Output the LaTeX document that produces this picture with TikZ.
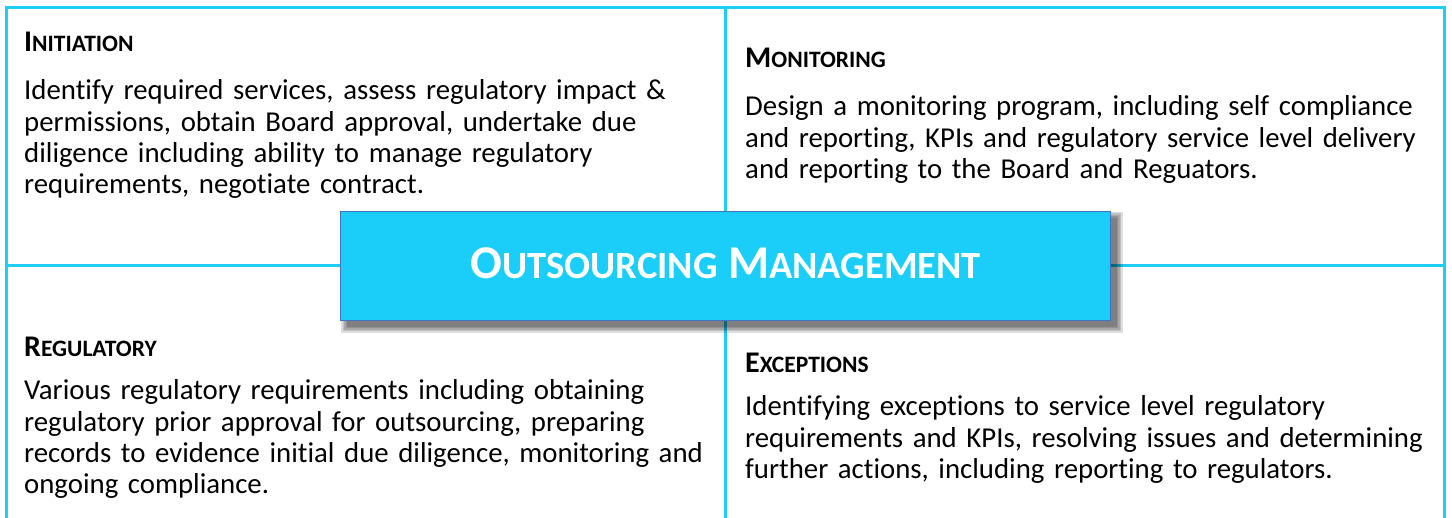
\documentclass[tikz,border=0pt]{standalone}
\usepackage{fontspec}
\setmainfont{Carlito}[Ligatures=NoCommon]
\definecolor{frame}{RGB}{30,206,245}
\definecolor{boxfill}{RGB}{27,206,249}
\definecolor{boxline}{RGB}{68,114,196}
\newcommand{\hdsc}[2]{#1{\fontsize{23.5}{26}\selectfont #2}}
\newcommand{\ttsc}[2]{#1{\fontsize{38.5}{42}\selectfont #2}}
\tikzset{
  frameline/.style={draw=frame, line width=3pt},
  head/.style={anchor=base west, inner sep=0pt, font=\fontsize{30}{34}\selectfont\bfseries, text=black},
  body/.style={anchor=base west, inner sep=0pt, text width=700pt, align=left, font=\fontsize{28.8}{31.3}\selectfont, text=black},
  centerbox/.style={draw=boxline, line width=1.2pt, fill=boxfill, minimum width=770pt, minimum height=109pt, inner sep=0pt},
  shadowlayer/.style={fill=black, opacity=0.13},
  title/.style={anchor=base, inner sep=0pt, font=\fontsize{47}{50}\selectfont\bfseries, text=white}
}
\begin{document}
\begin{tikzpicture}[x=1pt,y=-1pt]
\useasboundingbox (0,0) rectangle (1452,518);
\fill[white] (0,0) rectangle (1452,518);
% frame
\coordinate (bl) at (6,530);
\coordinate (tl) at (6,8);
\coordinate (tr) at (1444,8);
\coordinate (br) at (1444,530);
\coordinate (vt) at (725.7,8);
\coordinate (vb) at (725.7,530);
\coordinate (hl) at (6,265.7);
\coordinate (hr) at (1444,265.7);
\draw[frameline] (bl) -- (tl) -- (tr) -- (br);
\draw[frameline] (vt) -- (vb);
\draw[frameline] (hl) -- (hr);
% center box with soft shadow
\coordinate (cnw) at (341,211.7);
\coordinate (cse) at (1110.7,320.7);
\foreach \d in {0,1.5,3,4.5,6}{
  \fill[shadowlayer] ([shift={(6-\d,6-\d)}]cnw) rectangle ([shift={(6+\d,6+\d)}]cse);
}
\node[centerbox] (cb) at (725.85,266.2) {};
\node[title] (tt) at (725.7,278.5) {\ttsc{O}{UTSOURCING} \ttsc{M}{ANAGEMENT}};
% Initiation
\node[head] (h1) at (24,52) {\hdsc{I}{NITIATION}};
\node[body] (b1) at (24,100) {Identify required services, assess regulatory impact \&\\permissions, obtain Board approval, undertake due\\diligence including ability to manage regulatory\\requirements, negotiate contract.};
% Monitoring
\node[head] (h2) at (745,68) {\hdsc{M}{ONITORING}};
\node[body] (b2) at (745,116) {Design a monitoring program, including self compliance\\and reporting, KPIs and regulatory service level delivery\\and reporting to the Board and Reguators.};
% Regulatory
\node[head] (h3) at (24,357) {\hdsc{R}{EGULATORY}};
\node[body] (b3) at (24,400) {Various regulatory requirements including obtaining\\regulatory prior approval for outsourcing, preparing\\records to evidence initial due diligence, monitoring and\\ongoing compliance.};
% Exceptions
\node[head] (h4) at (745,373) {\hdsc{E}{XCEPTIONS}};
\node[body] (b4) at (745,416) {Identifying exceptions to service level regulatory\\requirements and KPIs, resolving issues and determining\\further actions, including reporting to regulators.};
\end{tikzpicture}
\end{document}
